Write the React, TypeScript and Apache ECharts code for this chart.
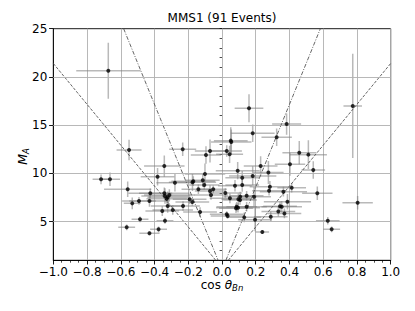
import React, { useEffect, useRef } from 'react';
import * as echarts from 'echarts';

// cos(theta_Bn) of each event
const xVals = [
  -0.674, 0.775, 0.16, 0.383, 0.182, 0.324, 0.052, 0.055, -0.233, -0.551,
  0.028, -0.071, 0.045, -0.095, 0.458, 0.512, 0.541, 0.403, 0.413, 0.275,
  0.229, 0.093, -0.101, -0.342, -0.382, -0.717, -0.664, -0.279, -0.17, -0.175,
  -0.114, -0.105, -0.14, -0.052, -0.071, -0.065, 0.02, -0.559, -0.532, -0.492,
  -0.43, -0.425, -0.486, -0.565, -0.43, -0.376, -0.342, -0.338, -0.312, -0.322,
  -0.328, -0.192, -0.176, -0.354, -0.322, -0.292, -0.231, -0.13, -0.338, 0.028,
  0.033, 0.12, 0.12, 0.077, 0.182, 0.284, 0.279, 0.364, 0.388, 0.047,
  0.097, 0.107, 0.146, 0.19, 0.087, 0.083, 0.095, 0.146, 0.354, 0.344,
  0.334, 0.37, 0.132, 0.196, 0.289, 0.239, 0.565, 0.804, 0.627, 0.65,
  0.108,
];
// Alfven Mach number of each event
const yVals = [
  20.65, 17.0, 16.75, 15.12, 14.16, 13.75, 13.4, 13.25, 12.5, 12.43,
  12.33, 12.33, 11.98, 11.91, 12.15, 11.95, 10.36, 10.95, 8.52, 10.1,
  10.77, 10.29, 9.94, 10.77, 9.66, 9.39, 9.39, 9.04, 9.2, 9.08,
  9.29, 8.8, 8.36, 8.36, 8.18, 7.77, 7.97, 8.36, 6.9, 7.15,
  7.15, 7.94, 5.25, 4.42, 3.8, 4.21, 7.94, 7.66, 7.77, 7.53,
  7.38, 7.32, 7.04, 6.1, 6.63, 6.21, 6.63, 6.0, 5.1, 5.77,
  5.6, 9.56, 8.8, 8.73, 9.74, 8.63, 8.21, 8.11, 7.07, 7.42,
  7.32, 7.25, 7.69, 7.59, 6.55, 6.39, 6.45, 6.55, 6.55, 6.6,
  6.05, 5.86, 5.45, 5.2, 5.52, 3.93, 7.94, 6.97, 5.1, 4.21,
  7.6,
];
const xErrs = [
  0.19, 0.055, 0.085, 0.086, 0.13, 0.09, 0.1, 0.12, 0.08, 0.074,
  0.09, 0.09, 0.08, 0.09, 0.1, 0.11, 0.07, 0.09, 0.085, 0.09,
  0.1, 0.13, 0.12, 0.12, 0.1, 0.05, 0.06, 0.11, 0.13, 0.14,
  0.1, 0.09, 0.1, 0.08, 0.09, 0.1, 0.1, 0.14, 0.05, 0.1,
  0.12, 0.13, 0.05, 0.05, 0.06, 0.05, 0.15, 0.14, 0.15, 0.12,
  0.12, 0.1, 0.1, 0.1, 0.1, 0.12, 0.1, 0.1, 0.05, 0.1,
  0.1, 0.1, 0.1, 0.1, 0.14, 0.12, 0.1, 0.14, 0.14, 0.12,
  0.1, 0.1, 0.1, 0.1, 0.12, 0.1, 0.13, 0.12, 0.12, 0.1,
  0.1, 0.1, 0.1, 0.1, 0.1, 0.04, 0.09, 0.09, 0.07, 0.05,
  0.1,
];
const yErrs = [
  2.9, 5.4, 1.45, 1.1, 0.9, 0.9, 1.4, 1.3, 0.7, 1.07,
  0.6, 1.2, 0.9, 0.9, 1.2, 1.5, 0.9, 1.2, 0.5, 1.2,
  1.0, 0.9, 1.1, 1.1, 0.9, 0.5, 0.7, 0.9, 0.5, 0.9,
  0.7, 0.5, 0.5, 0.4, 0.6, 0.5, 0.5, 0.8, 0.6, 0.4,
  0.6, 0.5, 0.3, 0.3, 0.2, 0.3, 0.6, 0.8, 0.6, 0.6,
  0.5, 0.5, 0.4, 0.5, 0.7, 0.5, 0.5, 0.5, 0.3, 0.3,
  0.3, 0.7, 0.7, 0.6, 1.0, 0.6, 0.5, 0.5, 0.8, 0.5,
  0.6, 0.5, 0.5, 1.0, 0.5, 0.5, 0.5, 0.5, 0.6, 0.5,
  0.5, 0.5, 0.5, 1.2, 0.5, 0.2, 0.7, 0.7, 0.4, 0.3,
  0.5,
];

// reference lines (end points)
const dashedLeft = [[-1, 21.4], [-0.037, 1]];
const dashedRight = [[0.037, 1], [1, 21.4]];
const dashDotLeft = [[-0.583, 25], [-0.023, 1]];
const dashDotRight = [[0.023, 1], [0.583, 25]];

const yMajorTicks = [5, 10, 15, 20, 25];
const yGridValues = [5, 10, 15, 20];

const FONT = 'DejaVu Sans';

export default function App() {
  const ref = useRef<HTMLDivElement>(null);
  useEffect(() => {
    if (!ref.current) return;
    const chart = echarts.init(ref.current, undefined, { renderer: 'svg' });
    const errData = xVals.map((x, i) => [x, yVals[i], xErrs[i], yErrs[i]]);
    const pts = xVals.map((x, i) => [x, yVals[i]]);
    const refLine = (data: number[][], dash: number[]) => ({
      type: 'line',
      data,
      showSymbol: false,
      silent: true,
      z: 3,
      lineStyle: { color: '#555', width: 0.9, type: dash },
    });
    const fmtX = (v: number) => {
      const r = Math.round(v * 10) / 10;
      const s = Math.abs(r).toFixed(1);
      return r < 0 ? '\u2212' + s : s;
    };
    chart.setOption({
      animation: false,
      textStyle: { fontFamily: FONT },
      title: {
        text: 'MMS1 (91 Events)',
        left: 222,
        top: 12,
        padding: 0,
        textAlign: 'center',
        textStyle: { fontFamily: FONT, fontSize: 12, fontWeight: 'normal', color: '#000' },
      },
      grid: {
        left: 53.3,
        top: 28.7,
        width: 337.4,
        height: 231.6,
        show: true,
        borderColor: '#000',
        borderWidth: 0.9,
        backgroundColor: 'transparent',
      },
      xAxis: {
        type: 'value',
        min: -1,
        max: 1,
        interval: 0.2,
        axisLine: { show: true, onZero: false, lineStyle: { color: '#000', width: 0.9 } },
        axisTick: { show: true, length: 4.2, lineStyle: { color: '#000', width: 0.9 } },
        minorTick: { show: true, splitNumber: 4, length: 2.4, lineStyle: { color: '#000', width: 0.7 } },
        splitLine: { show: true, lineStyle: { color: '#b0b0b0', width: 0.9 } },
        axisLabel: { formatter: fmtX, color: '#000', fontSize: 12, lineHeight: 12, fontFamily: FONT, margin: 6 },
        name: '{r|cos }{i|θ}{s|Bn}',
        nameLocation: 'middle',
        nameGap: 18,
        nameMoveOverlap: false,
        nameTextStyle: {
          color: '#000',
          fontFamily: FONT,
          verticalAlign: 'top',
          rich: {
            r: { fontSize: 12, lineHeight: 13, fontFamily: FONT, color: '#000' },
            i: { fontSize: 12, lineHeight: 13, fontFamily: FONT, fontStyle: 'italic', color: '#000' },
            s: { fontSize: 8.5, lineHeight: 9, fontFamily: FONT, fontStyle: 'italic', color: '#000', padding: [6, 0, 0, 0] },
          },
        },
      },
      yAxis: [
        {
          type: 'value',
          min: 1,
          max: 25,
          position: 'left',
          axisLine: { show: true, onZero: false, lineStyle: { color: '#000', width: 0.9 } },
          axisTick: { show: true, length: 4.2, customValues: yMajorTicks, lineStyle: { color: '#000', width: 0.9 } },
          splitLine: { show: false },
          axisLabel: { customValues: yMajorTicks, color: '#000', fontSize: 12, fontFamily: FONT, margin: 6 },
          name: '{m|M}{s|A}',
          nameLocation: 'middle',
          nameGap: 23,
          nameMoveOverlap: false,
          nameTextStyle: {
            color: '#000',
            fontFamily: FONT,
            padding: [0, 24, 0, 0],
            rich: {
              m: { fontSize: 12.5, fontFamily: FONT, fontStyle: 'italic', color: '#000' },
              s: { fontSize: 8.5, fontFamily: FONT, fontStyle: 'italic', color: '#000', padding: [7, 0, 0, 0] },
            },
          },
        },
        {
          type: 'value',
          min: 1,
          max: 25,
          interval: 1,
          position: 'left',
          axisLine: { show: false },
          axisTick: { show: true, length: 2.4, lineStyle: { color: '#000', width: 0.7 } },
          axisLabel: { show: false },
          splitLine: { show: false },
        },
      ],
      series: [
        {
          type: 'line',
          data: [],
          silent: true,
          z: 0,
          markLine: {
            silent: true,
            symbol: 'none',
            label: { show: false },
            lineStyle: { color: '#b0b0b0', width: 0.9, type: 'solid' },
            data: yGridValues.map((v) => ({ yAxis: v })),
          },
        },
        {
          type: 'custom',
          data: errData,
          encode: { x: 0, y: 1 },
          clip: true,
          silent: true,
          z: 1,
          renderItem: (params: any, api: any) => {
            const x = api.value(0);
            const y = api.value(1);
            const xe = api.value(2);
            const ye = api.value(3);
            const l = api.coord([x - xe, y]);
            const r = api.coord([x + xe, y]);
            const t = api.coord([x, y + ye]);
            const b = api.coord([x, y - ye]);
            const style = { stroke: 'rgba(128,128,128,0.55)', lineWidth: 1.5, fill: null };
            return {
              type: 'group',
              children: [
                { type: 'line', shape: { x1: l[0], y1: l[1], x2: r[0], y2: r[1] }, style },
                { type: 'line', shape: { x1: t[0], y1: t[1], x2: b[0], y2: b[1] }, style },
              ],
            };
          },
        },
        refLine(dashedLeft, [3, 1.5]),
        refLine(dashedRight, [3, 1.5]),
        refLine(dashDotLeft, [4, 1.5, 1, 1.5]),
        refLine(dashDotRight, [4, 1.5, 1, 1.5]),
        {
          type: 'scatter',
          data: pts,
          symbol: 'circle',
          symbolSize: 4,
          z: 5,
          itemStyle: { color: '#000' },
        },
      ],
    });
    return () => chart.dispose();
  }, []);
  return (
    <div
      ref={ref}
      style={{ position: 'fixed', left: 0, top: 0, width: 415, height: 311, background: '#fff' }}
    />
  );
}
